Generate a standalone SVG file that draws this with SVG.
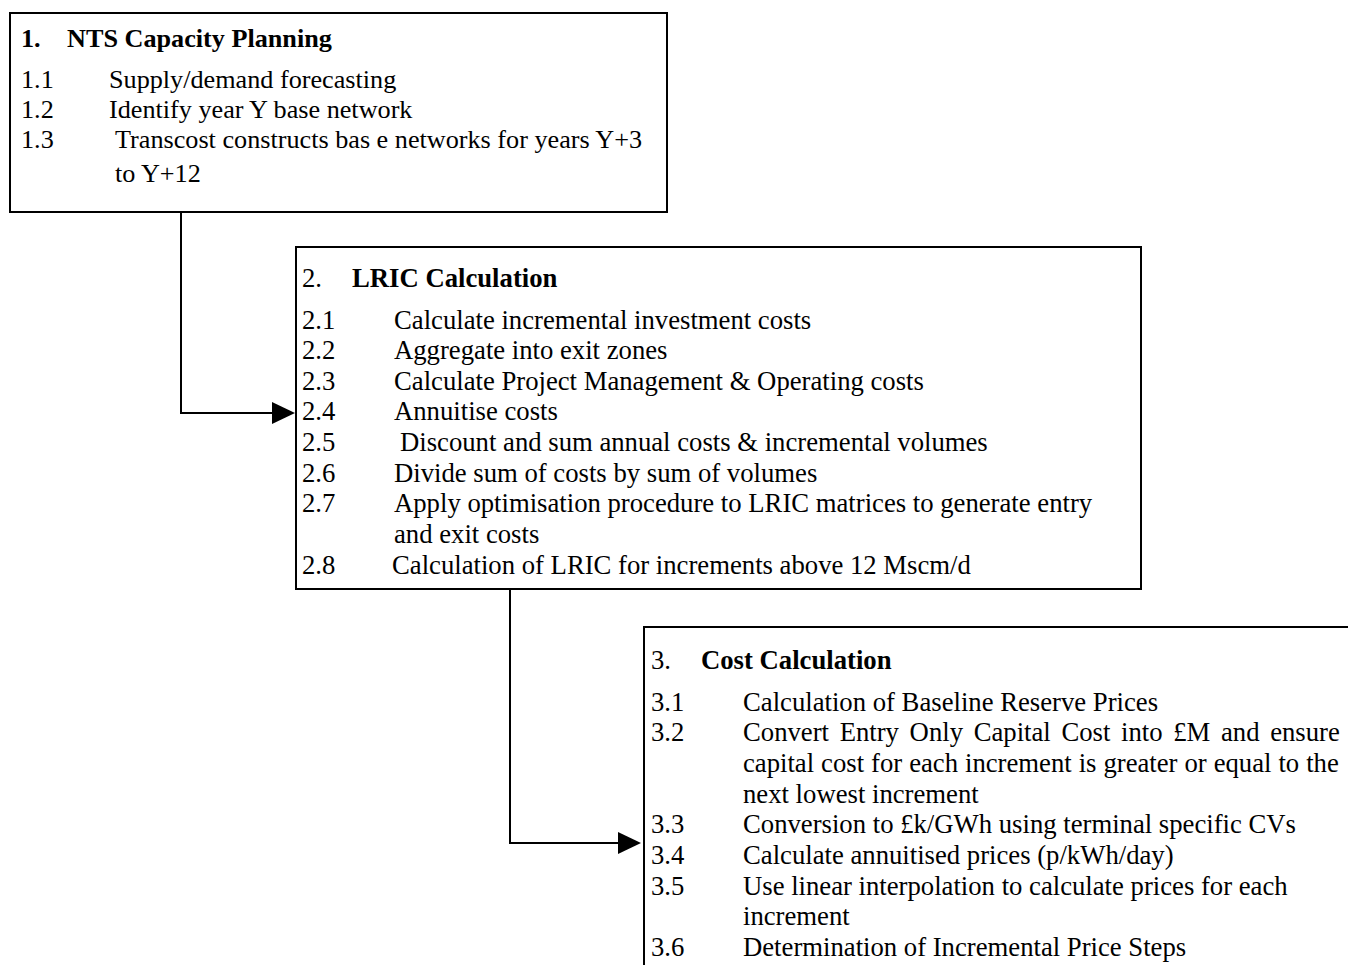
<svg xmlns="http://www.w3.org/2000/svg" width="1348" height="965" viewBox="0 0 1348 965">
<style>
.box{fill:#fff;stroke:#000;stroke-width:2}
.t{font-family:"Liberation Serif","Times New Roman",serif;font-size:26.7px;fill:#000}
#node1 .t{font-size:26.2px}
.b{font-weight:bold}
.con{fill:none;stroke:#000;stroke-width:2}
.head{fill:#000}
</style>
<rect width="1348" height="965" fill="#fff"/>
<g id="connectors">
<path class="con" d="M181,212 V413 H274"/>
<polygon class="head" points="272,402 295,413 272,424"/>
<path class="con" d="M510,589 V843 H620"/>
<polygon class="head" points="618,832 641,843 618,854"/>
</g>
<g id="node1">
<rect class="box" x="10" y="13" width="657" height="199"/>
<text class="t b" x="21" y="47">1.</text>
<text class="t b" x="67" y="47">NTS Capacity Planning</text>
<text class="t" x="21" y="88">1.1</text>
<text class="t" x="109" y="88">Supply/demand forecasting</text>
<text class="t" x="21" y="118">1.2</text>
<text class="t" x="109" y="118">Identify year Y base network</text>
<text class="t" x="21" y="148">1.3</text>
<text class="t" x="115" y="148">Transcost constructs bas e networks for years Y+3</text>
<text class="t" x="115" y="182">to Y+12</text>
</g>
<g id="node2">
<rect class="box" x="296" y="247" width="845" height="342"/>
<text class="t" x="302" y="287">2.</text>
<text class="t b" x="352" y="287">LRIC Calculation</text>
<text class="t" x="302" y="329">2.1</text>
<text class="t" x="394" y="329">Calculate incremental investment costs</text>
<text class="t" x="302" y="359">2.2</text>
<text class="t" x="394" y="359">Aggregate into exit zones</text>
<text class="t" x="302" y="390">2.3</text>
<text class="t" x="394" y="390">Calculate Project Management &amp; Operating costs</text>
<text class="t" x="302" y="420">2.4</text>
<text class="t" x="394" y="420">Annuitise costs</text>
<text class="t" x="302" y="451">2.5</text>
<text class="t" x="400" y="451">Discount and sum annual costs &amp; incremental volumes</text>
<text class="t" x="302" y="482">2.6</text>
<text class="t" x="394" y="482">Divide sum of costs by sum of volumes</text>
<text class="t" x="302" y="512">2.7</text>
<text class="t" x="394" y="512">Apply optimisation procedure to LRIC matrices to generate entry</text>
<text class="t" x="394" y="543">and exit costs</text>
<text class="t" x="302" y="574">2.8</text>
<text class="t" x="392" y="574">Calculation of LRIC for increments above 12 Mscm/d</text>
</g>
<g id="node3">
<rect class="box" x="644" y="627" width="720" height="360"/>
<text class="t" x="651" y="669">3.</text>
<text class="t b" x="701" y="669">Cost Calculation</text>
<text class="t" x="651" y="711">3.1</text>
<text class="t" x="743" y="711">Calculation of Baseline Reserve Prices</text>
<text class="t" x="651" y="741">3.2</text>
<text class="t" x="743" y="741" word-spacing="4">Convert Entry Only Capital Cost into £M and ensure</text>
<text class="t" x="743" y="772" word-spacing="0.3">capital cost for each increment is greater or equal to the</text>
<text class="t" x="743" y="803">next lowest increment</text>
<text class="t" x="651" y="833">3.3</text>
<text class="t" x="743" y="833">Conversion to £k/GWh using terminal specific CVs</text>
<text class="t" x="651" y="864">3.4</text>
<text class="t" x="743" y="864">Calculate annuitised prices (p/kWh/day)</text>
<text class="t" x="651" y="895">3.5</text>
<text class="t" x="743" y="895">Use linear interpolation to calculate prices for each</text>
<text class="t" x="743" y="925">increment</text>
<text class="t" x="651" y="956">3.6</text>
<text class="t" x="743" y="956">Determination of Incremental Price Steps</text>
</g>
</svg>
